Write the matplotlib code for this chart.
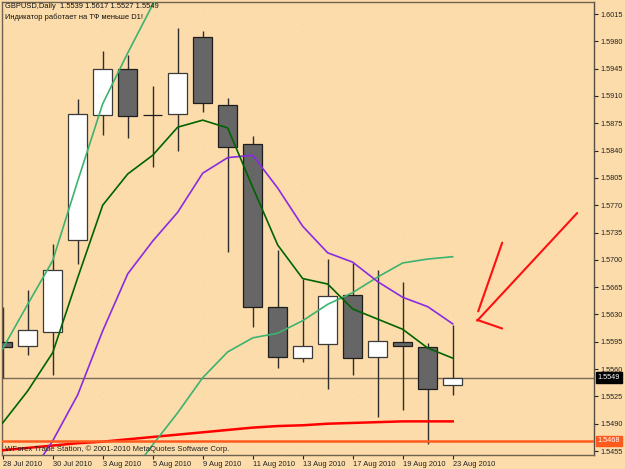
import matplotlib
matplotlib.use("Agg")
import matplotlib.pyplot as plt

# ---------------- data ----------------
dates = ["28 Jul 2010", "29 Jul 2010", "30 Jul 2010", "2 Aug 2010", "3 Aug 2010",
         "4 Aug 2010", "5 Aug 2010", "6 Aug 2010", "9 Aug 2010", "10 Aug 2010",
         "11 Aug 2010", "12 Aug 2010", "13 Aug 2010", "16 Aug 2010", "17 Aug 2010",
         "18 Aug 2010", "19 Aug 2010", "20 Aug 2010", "23 Aug 2010"]
opens = [1.5595, 1.5589, 1.5608, 1.5726, 1.5885, 1.5944, 1.5886, 1.5887, 1.5985, 1.5899,
         1.5849, 1.5639, 1.5574, 1.5592, 1.5655, 1.5575, 1.5595, 1.5588, 1.5539]
highs = [1.5640, 1.5661, 1.5720, 1.5906, 1.5967, 1.5962, 1.5923, 1.5997, 1.5993, 1.5908,
         1.5859, 1.5713, 1.5676, 1.5701, 1.5696, 1.5687, 1.5671, 1.5594, 1.5617]
lows = [1.5548, 1.5578, 1.5552, 1.5695, 1.5860, 1.5856, 1.5819, 1.5839, 1.5889, 1.5710,
        1.5614, 1.5561, 1.5569, 1.5534, 1.5552, 1.5498, 1.5508, 1.5464, 1.5527]
closes = [1.5588, 1.5610, 1.5687, 1.5887, 1.5945, 1.5884, 1.5885, 1.5940, 1.5901, 1.5845,
          1.5640, 1.5575, 1.5590, 1.5654, 1.5574, 1.5596, 1.5589, 1.5534, 1.5549]

ma_darkgreen = [1.5491, 1.5532, 1.5581, 1.5677, 1.5770, 1.5810, 1.5834, 1.5870, 1.5879, 1.5869,
                1.5793, 1.5719, 1.5676, 1.5669, 1.5637, 1.5624, 1.5611, 1.5587, 1.5574]
ma_purple = [1.5373, 1.5420, 1.5468, 1.5527, 1.5609, 1.5682, 1.5724, 1.5761, 1.5811, 1.5831,
             1.5834, 1.5792, 1.5743, 1.5709, 1.5697, 1.5672, 1.5652, 1.5640, 1.5618]
ma_seagreen_up_idx = [0, 1, 2, 3, 4, 5, 6, 7]
ma_seagreen_up = [1.5586, 1.5643, 1.5699, 1.5801, 1.5900, 1.5965, 1.6027, 1.6084]
ma_seagreen_low_idx = [5, 6, 7, 8, 9, 10, 11, 12, 13, 14, 15, 16, 17, 18]
ma_seagreen_low = [1.5420, 1.5463, 1.5504, 1.5549, 1.5582, 1.5600, 1.5606, 1.5622, 1.5643,
                   1.5658, 1.5678, 1.5696, 1.5701, 1.5704]
ma_red = [1.5456, 1.5459, 1.5462, 1.5465, 1.5467, 1.5470, 1.5473, 1.5476, 1.5479, 1.5482,
          1.5485, 1.5487, 1.5488, 1.5490, 1.5491, 1.5492, 1.5493, 1.5493, 1.5493]

last_price = 1.5549
level_price = 1.5468
y_ticks = [1.6015, 1.5980, 1.5945, 1.5910, 1.5875, 1.5840, 1.5805, 1.5770, 1.5735,
           1.5700, 1.5665, 1.5630, 1.5595, 1.5560, 1.5525, 1.5490, 1.5455]
x_tick_idx = [0, 2, 4, 6, 8, 10, 12, 14, 16, 18]
x_tick_labels = ["28 Jul 2010", "30 Jul 2010", "3 Aug 2010", "5 Aug 2010", "9 Aug 2010",
                 "11 Aug 2010", "13 Aug 2010", "17 Aug 2010", "19 Aug 2010", "23 Aug 2010"]

# hand-drawn arrow (bar index, price)
arrow_long_x = [18.98, 22.98]
arrow_long_y = [1.5622, 1.5760]
arrow_up_x = [19.02, 19.98]
arrow_up_y = [1.5634, 1.5722]
arrow_low_x = [18.98, 19.98]
arrow_low_y = [1.5623, 1.5612]

header1 = "GBPUSD,Daily  1.5539 1.5617 1.5527 1.5549"
header2 = "Индикатор работает на ТФ меньше D1!"
footer = "WForex Trade Station, © 2001-2010 MetaQuotes Software Corp."

# ---------------- style ----------------
BG = "#FCDCAA"
FRAME = "#6E6252"
FONT = ["Liberation Sans", "DejaVu Sans"]
plt.rcParams['font.family'] = FONT

W, H = 625, 469
fig = plt.figure(figsize=(W / 100, H / 100), dpi=100, facecolor=BG)
ax = fig.add_axes([2 / W, 1 - 455 / H, 592 / W, 453 / H], facecolor=BG)

ax.set_xlim(-0.028, 23.652)
ax.set_ylim(1.54499, 1.60304)

# very faint dotted grid
for yt in y_ticks:
    ax.axhline(yt, color="#F0CF98", lw=0.5, ls=(0, (1, 9)), zorder=0)
for xt in x_tick_idx:
    ax.axvline(xt, color="#F0CF98", lw=0.5, ls=(0, (1, 9)), zorder=0)

# candles
bw = 0.76
for i in range(len(opens)):
    o, h, l, c = opens[i], highs[i], lows[i], closes[i]
    ax.vlines(i, l, h, color="#2E2E2E", lw=1.0, zorder=2)
    if abs(c - o) < 0.00005:
        ax.hlines(o, i - bw / 2, i + bw / 2, color="#2E2E2E", lw=1.0, zorder=3)
        continue
    if c > o:
        ax.bar(i, c - o, bottom=o, width=bw, color="white", edgecolor="#3A3A3A",
               linewidth=0.9, zorder=3)
    else:
        ax.bar(i, o - c, bottom=c, width=bw, color="#666666", edgecolor="#1E1E1E",
               linewidth=0.9, zorder=3)

xs = list(range(len(opens)))
ax.plot(xs, ma_red, color="#FF0000", lw=1.8, zorder=4)
ax.plot(ma_seagreen_up_idx, ma_seagreen_up, color="#3CB371", lw=1.2, zorder=4)
ax.plot(ma_seagreen_low_idx, ma_seagreen_low, color="#3CB371", lw=1.2, zorder=4)
ax.plot(xs, ma_purple, color="#8A2BE2", lw=1.2, zorder=4)
ax.plot(xs, ma_darkgreen, color="#006400", lw=1.2, zorder=4)

ax.axhline(last_price, color="#7A6B58", lw=1.0, zorder=1)
ax.axhline(level_price, color="#FF5A1E", lw=1.8, zorder=4)

for ax_x, ax_y in [(arrow_long_x, arrow_long_y), (arrow_up_x, arrow_up_y), (arrow_low_x, arrow_low_y)]:
    ax.plot(ax_x, ax_y, color="#FF1010", lw=1.5, zorder=5, solid_capstyle="round")

# axes / ticks
for side in ["left", "top", "bottom", "right"]:
    ax.spines[side].set_color(FRAME)
    ax.spines[side].set_linewidth(1.0)
ax.spines["right"].set_color("#555045")

ax.yaxis.tick_right()
ax.set_yticks(y_ticks)
ax.set_yticklabels([f"{v:.4f}" for v in y_ticks])
ax.tick_params(axis="y", direction="out", length=3, width=0.8, pad=1.5,
               labelsize=5.2, colors="#222222")
ax.set_xticks(x_tick_idx)
ax.set_xticklabels(x_tick_labels)
ax.tick_params(axis="x", direction="out", length=3, width=0.8, pad=1.5,
               labelsize=5.4, colors="#222222")
for lab in ax.get_xticklabels():
    lab.set_horizontalalignment("left")

# price label boxes
ax.text(1.006, last_price, f"{last_price:.4f}", transform=ax.get_yaxis_transform(),
        color="white", fontsize=5.2, va="center", ha="left", zorder=10,
        bbox=dict(boxstyle="square,pad=0.25", fc="#000000", ec="#000000"))
ax.text(1.006, level_price, f"{level_price:.4f}", transform=ax.get_yaxis_transform(),
        color="white", fontsize=5.2, va="center", ha="left", zorder=10,
        bbox=dict(boxstyle="square,pad=0.25", fc="#FF5A1E", ec="#FF5A1E"))

fig.text(5 / W, 1 - 7 / H, header1, fontsize=5.4, color="#111111", va="center", ha="left")
fig.text(5 / W, 1 - 17.5 / H, header2, fontsize=5.4, color="#111111", va="center", ha="left")
fig.text(5 / W, 1 - 449 / H, footer, fontsize=5.6, color="#222222", va="center", ha="left")

fig.savefig("out.png", dpi=100, facecolor=BG)
